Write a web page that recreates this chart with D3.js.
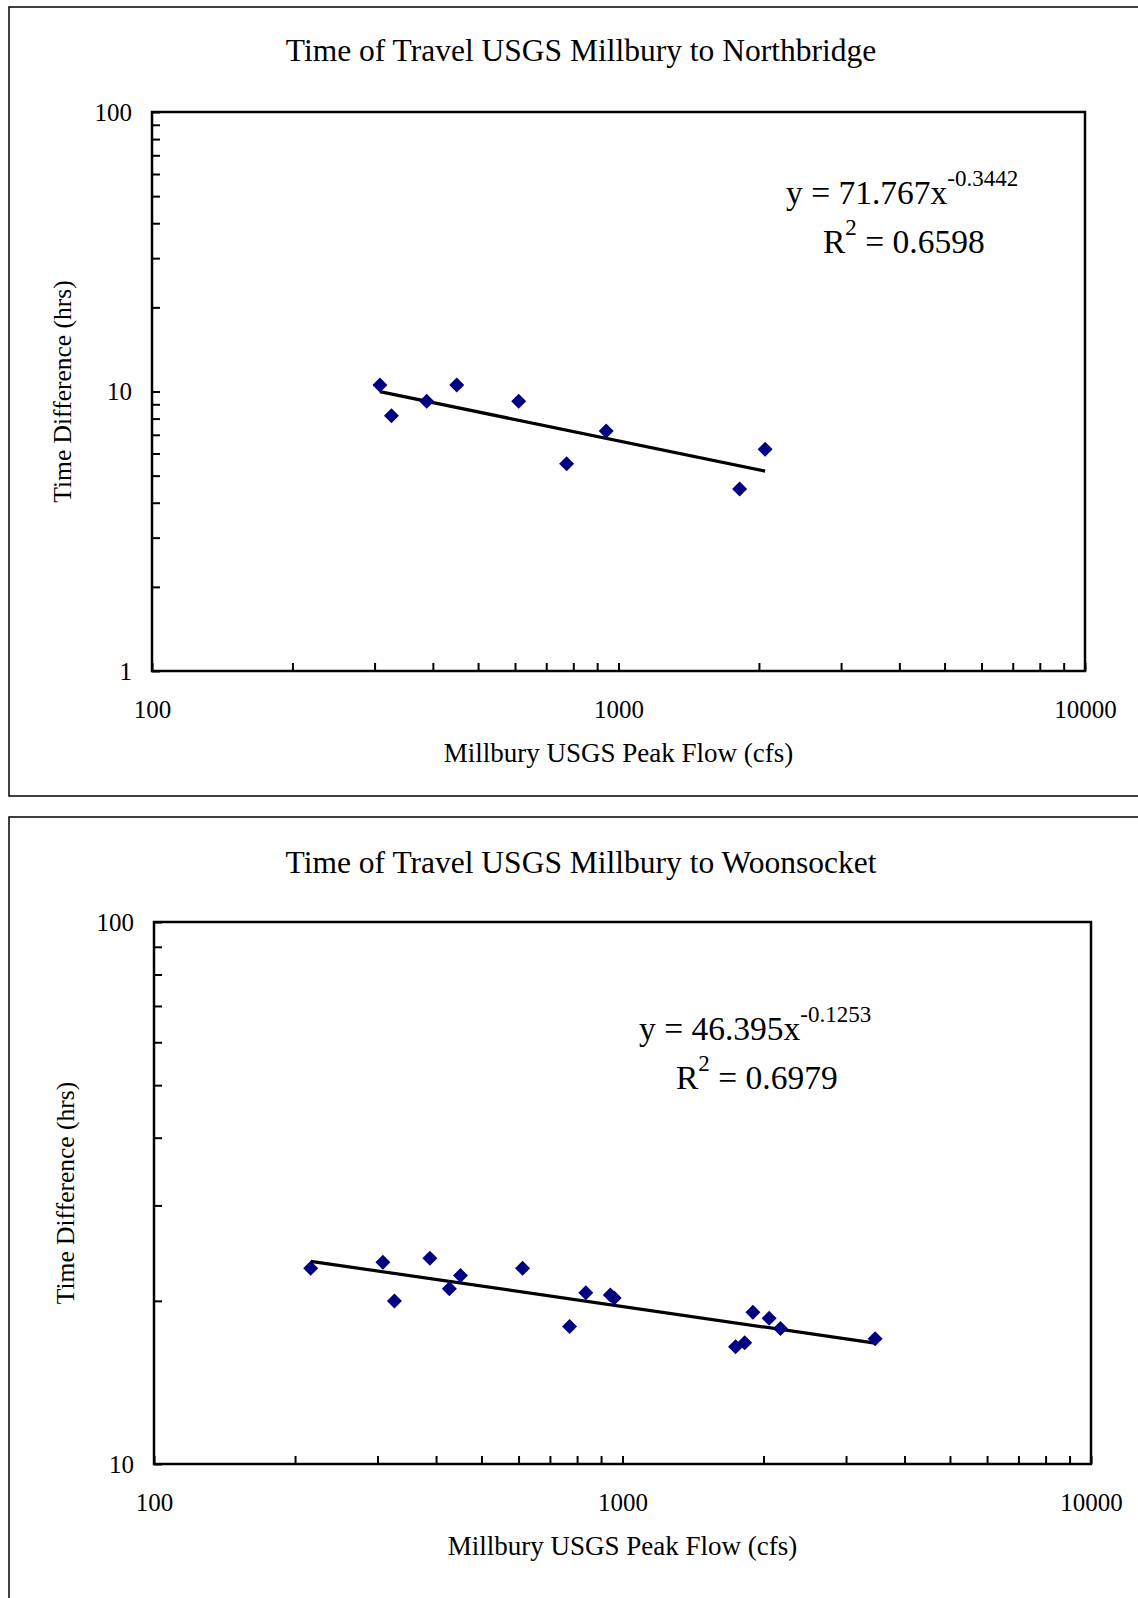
<!DOCTYPE html>
<html>
<head>
<meta charset="utf-8">
<script src="https://cdn.jsdelivr.net/npm/d3@7"></script>
<style>
  body { margin: 0; background: #fff; }
  text { font-family: "Liberation Serif", "Times New Roman", serif; fill: #000; }
</style>
</head>
<body>
<div id="chart-area"></div>
<script>
// Millbury -> Northbridge
const flowNorth = [308, 326, 388, 450, 611, 774, 941, 1818, 2062]
const timeNorth = [10.54, 8.19, 9.22, 10.54, 9.22, 5.52, 7.22, 4.48, 6.21]
const fitNorth = [71.767, -0.3442]
const r2North = "0.6598"

// Millbury -> Woonsocket
const flowWoon = [216, 308, 326, 388, 427, 451, 612, 771, 835, 942, 960, 1743, 1823, 1898, 2056, 2173, 3461]
const timeWoon = [22.96, 23.56, 19.98, 23.97, 21.05, 22.27, 22.96, 17.94, 20.7, 20.5, 20.24, 16.45, 16.74, 19.06, 18.57, 17.78, 17.03]
const fitWoon = [46.395, -0.1253]
const r2Woon = "0.6979"

const xDomain = [100, 10000]
const yDomainNorth = [1, 100]
const yDomainWoon = [10, 100]

const WIDTH = 1138
const HEIGHT = 1598

const svg = d3.select("#chart-area").append("svg")
  .attr("width", WIDTH)
  .attr("height", HEIGHT)

// log ticks: every 1..9 multiple of each decade
function logTicks(domain) {
  var out = []
  for (var p = domain[0]; p < domain[1]; p *= 10) {
    for (var k = 1; k < 10; k++) out.push(p * k)
  }
  out.push(domain[1])
  return out
}

function isDecade(v) {
  var l = Math.log10(v)
  return Math.abs(l - Math.round(l)) < 1e-9
}

function drawPanel(cfg) {
  // outer chart border
  svg.append("rect")
    .attr("x", 9).attr("y", cfg.panelTop)
    .attr("width", 1160).attr("height", cfg.panelHeight)
    .attr("fill", "none").attr("stroke", "#000").attr("stroke-width", 1.5)

  svg.append("text")
    .attr("x", 581).attr("y", cfg.titleY)
    .attr("text-anchor", "middle")
    .attr("font-size", 31.5)
    .text(cfg.title)

  var plot = cfg.plot
  var x = d3.scaleLog().domain(xDomain).range([plot.left, plot.right])
  var y = d3.scaleLog().domain(cfg.yDomain).range([plot.bottom, plot.top])

  var bottomAx = d3.axisBottom(x)
    .tickValues(logTicks(xDomain))
    .tickFormat(d => isDecade(d) ? d3.format("d")(d) : "")
    .tickSizeInner(-8).tickSizeOuter(0).tickPadding(29)

  var leftAx = d3.axisLeft(y)
    .tickValues(logTicks(cfg.yDomain))
    .tickFormat(d => isDecade(d) ? d3.format("d")(d) : "")
    .tickSizeInner(-8).tickSizeOuter(0).tickPadding(20)

  var xAxis = svg.append("g")
    .attr("transform", `translate(0, ${plot.bottom})`)
    .call(bottomAx)
  var yAxis = svg.append("g")
    .attr("transform", `translate(${plot.left}, 0)`)
    .call(leftAx)

  ;[xAxis, yAxis].forEach(function(a) {
    a.select(".domain").remove()
    a.selectAll("line").attr("stroke", "#000").attr("stroke-width", 2)
    a.selectAll("text")
      .attr("font-size", 25)
      .attr("font-family", "Liberation Serif, Times New Roman, serif")
      .attr("fill", "#000")
  })

  // plot area frame
  svg.append("rect")
    .attr("x", plot.left).attr("y", plot.top)
    .attr("width", plot.right - plot.left).attr("height", plot.bottom - plot.top)
    .attr("fill", "none").attr("stroke", "#000").attr("stroke-width", 2.5)

  svg.append("text")
    .attr("x", (plot.left + plot.right) / 2)
    .attr("y", plot.bottom + 91)
    .attr("text-anchor", "middle")
    .attr("font-size", 27)
    .text("Millbury USGS Peak Flow (cfs)")

  svg.append("text")
    .attr("transform", `translate(${cfg.yTitleX}, ${(plot.top + plot.bottom) / 2}) rotate(-90)`)
    .attr("text-anchor", "middle")
    .attr("font-size", 25.5)
    .text("Time Difference (hrs)")

  // power trendline over the data range
  var a = cfg.fit[0], b = cfg.fit[1]
  var ext = d3.extent(cfg.flow)
  var trend = ext.map(f => [f, a * Math.pow(f, b)])
  svg.append("path")
    .datum(trend)
    .attr("d", d3.line().x(d => x(d[0])).y(d => y(d[1])))
    .attr("fill", "none").attr("stroke", "#000").attr("stroke-width", 3.2)

  var pts = cfg.flow.map((f, i) => ({ flow: f, time: cfg.time[i] }))
  svg.selectAll(null)
    .data(pts)
    .enter()
    .append("path")
    .attr("transform", d => `translate(${x(d.flow)}, ${y(d.time)})`)
    .attr("d", "M0,-7.5L7.5,0L0,7.5L-7.5,0Z")
    .attr("fill", "#000080")

  // equation (plain hyphen for the minus, as in the source)
  var eq = svg.append("text")
    .attr("x", cfg.eq.x).attr("y", cfg.eq.y)
    .attr("font-size", 33.5)
  eq.append("tspan").text("y = " + d3.format(".3f")(a) + "x")
  eq.append("tspan").attr("font-size", 23).attr("dy", -18)
    .text(d3.format(".4f")(b).replace("\u2212", "-"))

  var r = svg.append("text")
    .attr("x", cfg.eq.x + 37).attr("y", cfg.eq.y + 49)
    .attr("font-size", 33.5)
  r.append("tspan").text("R")
  r.append("tspan").attr("font-size", 23).attr("dy", -18).text("2")
  r.append("tspan").attr("dy", 18).text(" = " + cfg.r2)
}

drawPanel({
  panelTop: 7, panelHeight: 789,
  title: "Time of Travel USGS Millbury to Northbridge", titleY: 61,
  plot: { left: 152, right: 1085, top: 112, bottom: 671 },
  yDomain: yDomainNorth, yTitleX: 71,
  flow: flowNorth, time: timeNorth, fit: fitNorth, r2: r2North,
  eq: { x: 786, y: 204 }
})

drawPanel({
  panelTop: 817, panelHeight: 900,
  title: "Time of Travel USGS Millbury to Woonsocket", titleY: 873,
  plot: { left: 154, right: 1091, top: 922, bottom: 1464 },
  yDomain: yDomainWoon, yTitleX: 74,
  flow: flowWoon, time: timeWoon, fit: fitWoon, r2: r2Woon,
  eq: { x: 639, y: 1040 }
})
</script>
</body>
</html>
